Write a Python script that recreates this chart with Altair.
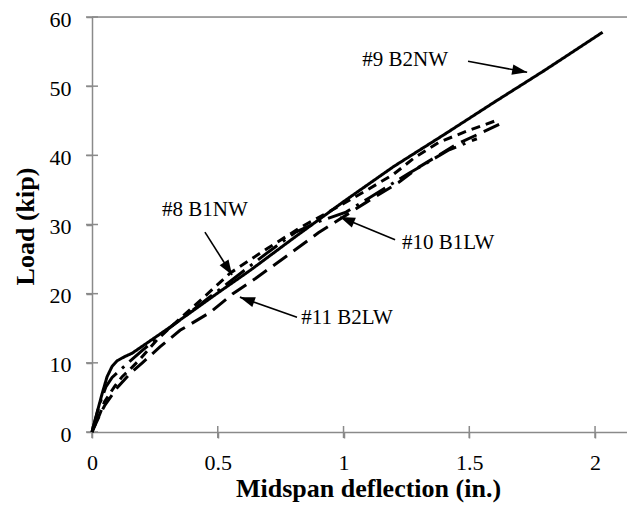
import math
import altair as alt
import pandas as pd

# ---------------- data ----------------
series_names = ["#9 B2NW", "#8 B1NW", "#11 B2LW", "#10 B1LW"]

b2nw_x = [0, 0.02, 0.04, 0.06, 0.08, 0.10, 0.13, 0.16, 0.20, 0.30, 0.40, 0.50, 0.63, 0.80, 1.00, 1.20, 1.40, 1.60, 1.80, 2.03]
b2nw_y = [0, 2.8, 5.5, 8.0, 9.5, 10.3, 10.9, 11.4, 12.4, 14.9, 17.5, 20.1, 23.4, 28.0, 33.3, 38.4, 43.0, 47.7, 52.3, 57.8]

b1nw_x = [0, 0.03, 0.05, 0.09, 0.12, 0.15, 0.19, 0.26, 0.35, 0.43, 0.55, 0.70, 0.83, 0.96, 1.09, 1.20, 1.28, 1.38, 1.49, 1.62]
b1nw_y = [0, 2.5, 4.4, 6.6, 8.0, 9.0, 10.5, 13.4, 16.4, 19.0, 23.0, 26.6, 29.6, 32.2, 34.9, 37.3, 39.6, 41.9, 43.5, 45.2]

b2lw_x = [0, 0.03, 0.05, 0.10, 0.15, 0.20, 0.27, 0.35, 0.47, 0.56, 0.65, 0.78, 0.90, 1.09, 1.22, 1.30, 1.45, 1.62]
b2lw_y = [0, 2.4, 3.8, 6.4, 8.4, 10.0, 12.3, 14.7, 17.3, 20.0, 22.2, 25.6, 28.8, 33.2, 36.1, 38.3, 41.6, 44.5]

b1lw_x = [0, 0.03, 0.055, 0.08, 0.11, 0.15, 0.20, 0.30, 0.40, 0.50, 0.60, 0.70, 0.81, 0.90, 1.01, 1.10, 1.26, 1.42, 1.53]
b1lw_y = [0, 4.0, 6.5, 7.9, 8.9, 10.2, 11.8, 14.8, 17.6, 20.4, 23.2, 26.0, 28.9, 30.4, 31.8, 33.8, 37.4, 40.8, 42.4]

x_ticks = [0, 0.5, 1, 1.5, 2]
y_ticks = [0, 10, 20, 30, 40, 50, 60]

# annotations: label text position, arrow tail, arrow tip
ann_text = ["#9 B2NW", "#8 B1NW", "#11 B2LW", "#10 B1LW"]
ann_tx = [1.245, 0.449, 1.014, 1.416]
ann_ty = [53.8, 32.1, 16.5, 27.3]
tail_x = [1.495, 0.449, 0.815, 1.205]
tail_y = [53.6, 28.9, 16.6, 27.8]
tip_x = [1.730, 0.557, 0.588, 0.986]
tip_y = [52.0, 22.7, 19.5, 31.1]

# ---------------- layout / style ----------------
W, H = 535, 415
XMAX, YMAX = 2.127, 60
PXX, PXY = W / XMAX, H / YMAX
GRAY = "#8a8a8a"
SERIF = "Liberation Serif"

rows = []
for name, xs, ys in [(series_names[0], b2nw_x, b2nw_y), (series_names[1], b1nw_x, b1nw_y),
                     (series_names[2], b2lw_x, b2lw_y), (series_names[3], b1lw_x, b1lw_y)]:
    for i, (xv, yv) in enumerate(zip(xs, ys)):
        rows.append({"series": name, "x": xv, "y": yv, "i": i})
df = pd.DataFrame(rows)

ann = pd.DataFrame({"label": ann_text, "x": ann_tx, "y": ann_ty,
                    "x0": tail_x, "y0": tail_y, "x1": tip_x, "y1": tip_y})
ann["ang"] = [
    (math.degrees(math.atan2((b - a) * PXX, (d - c) * PXY))) % 360
    for a, b, c, d in zip(tail_x, tip_x, tail_y, tip_y)
]

xscale = alt.Scale(domain=[0, XMAX], nice=False, zero=False)
yscale = alt.Scale(domain=[0, YMAX], nice=False)

xaxis = alt.Axis(values=x_ticks, format="~g", grid=False, domainColor=GRAY, domainWidth=1.5,
                 tickColor=GRAY, tickWidth=1.5, tickSize=6, labelFont=SERIF, labelFontSize=22,
                 labelColor="black", labelPadding=14, labelFlush=False,
                 title="Midspan deflection (in.)", titleFont=SERIF, titleFontSize=26,
                 titleFontWeight="bold", titleColor="black", titleX=276, titleY=43,
                 titleAlign="center", titleBaseline="top")
yaxis = alt.Axis(values=y_ticks, grid=False, domainColor=GRAY, domainWidth=1.5,
                 tickColor=GRAY, tickWidth=1.5, tickSize=6, labelFont=SERIF, labelFontSize=22,
                 labelColor="black", labelPadding=15, labelFlush=False, labelOffset=2,
                 title="Load (kip)", titleFont=SERIF, titleFontSize=26, titleFontWeight="bold",
                 titleColor="black", titleX=-67, titleY=209, titleBaseline="middle", titleAlign="center")

X = lambda f: alt.X(f, type="quantitative", scale=xscale, axis=xaxis)
Y = lambda f: alt.Y(f, type="quantitative", scale=yscale, axis=yaxis)

lines = alt.Chart(df).mark_line(strokeWidth=3, color="black", strokeCap="butt").encode(
    x=X("x"), y=Y("y"),
    strokeDash=alt.StrokeDash("series:N",
                              scale=alt.Scale(domain=series_names,
                                              range=[[1, 0], [9, 6], [17, 8], [24, 7, 3, 7]]),
                              legend=None),
    order="i:Q",
)

top_rule = alt.Chart(pd.DataFrame({"y": [YMAX]})).mark_rule(color=GRAY, strokeWidth=1.5).encode(y=Y("y"))

xt = alt.Chart(pd.DataFrame({"x": x_ticks})).mark_tick(
    orient="vertical", size=12, thickness=1.5, color=GRAY, opacity=1).encode(x=X("x"), y=alt.datum(0))
yt = alt.Chart(pd.DataFrame({"y": y_ticks})).mark_tick(
    orient="horizontal", size=12, thickness=1.5, color=GRAY, opacity=1).encode(y=Y("y"), x=alt.datum(0))

arrows = alt.Chart(ann).mark_rule(color="black", strokeWidth=1.6).encode(
    x=X("x0"), y=Y("y0"), x2="x1", y2="y1")
heads = alt.Chart(ann).mark_point(shape="M0,0L0.7,2L-0.7,2Z", size=225, filled=True,
                                  color="black", opacity=1, strokeWidth=0).encode(
    x=X("x1"), y=Y("y1"), angle=alt.Angle("ang:Q", scale=None))
labels = alt.Chart(ann).mark_text(font=SERIF, fontSize=21, color="black",
                                  align="center", baseline="middle").encode(
    x=X("x"), y=Y("y"), text="label:N")

chart = alt.layer(top_rule, xt, yt, lines, arrows, heads, labels).properties(
    width=W, height=H,
    padding={"left": 84, "top": 9, "right": 0, "bottom": 72},
    autosize=alt.AutoSizeParams(type="none"),
).configure_view(stroke=None).configure(background="white")

chart.save("out.html", embed_options={"renderer": "svg", "actions": False})
